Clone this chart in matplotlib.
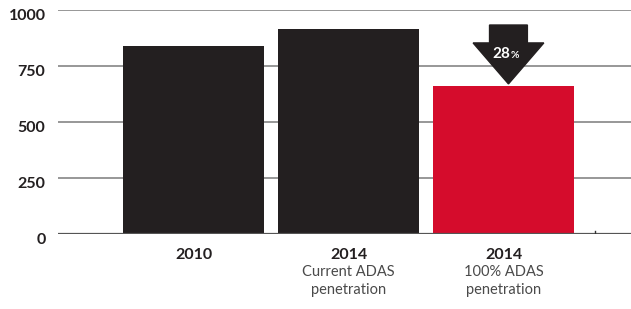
import numpy as np
import matplotlib.pyplot as plt
import matplotlib.transforms as mtransforms
from matplotlib.patches import Polygon

# --- Données ---
annees = ["2010", "2014", "2014"]
sous_titres = ["", "Current ADAS\npenetration", "100% ADAS\npenetration"]
valeurs = [840, 915, 660]
couleurs = ["#231f20", "#231f20", "#d50c2c"]
reduction = "28"
graduations_y = [0, 250, 500, 750, 1000]

plt.rcParams['font.family'] = ['Lato', 'DejaVu Sans']

fig = plt.figure(figsize=(6.31, 3.09), dpi=100)
ax = fig.add_axes([58 / 631, 1 - 234 / 309, 573 / 631, 224 / 309])

x = np.arange(len(valeurs))
for y in graduations_y[1:]:
    ax.axhline(y, color="#7a7a7a", lw=1.1, zorder=1)
ax.axhline(0, color="#555555", lw=1.6, zorder=3)
ax.bar(x, valeurs, width=0.91, color=couleurs, zorder=2)

# petite graduation sur l'axe des x
ax.plot([2.59, 2.59], [0, 12], color="#333333", lw=1, zorder=3)

ax.set_xlim(-0.874, 2.82)
ax.set_ylim(0, 1000)
ax.set_yticks(graduations_y)
ax.set_yticklabels([str(v) for v in graduations_y], fontsize=11.5, fontweight="bold", color="#231f20")
ax.tick_params(axis="y", length=0, pad=9)
decalage = mtransforms.ScaledTranslation(0, -4.5 / 100, fig.dpi_scale_trans)
for lab in ax.get_yticklabels():
    lab.set_transform(lab.get_transform() + decalage)
ax.set_xticks([])
for s in ax.spines.values():
    s.set_visible(False)

# étiquettes sous les barres
for i in range(len(valeurs)):
    ax.annotate(annees[i], (x[i], 0), xytext=(0, -10), textcoords="offset points",
                ha="center", va="top", fontsize=11.5, fontweight="bold", color="#231f20")
    if sous_titres[i]:
        ax.annotate(sous_titres[i], (x[i], 0), xytext=(0, -22.5), textcoords="offset points",
                    ha="center", va="top", fontsize=10.5, color="#4a4a4a", linespacing=1.35)

# flèche de réduction
cx = 2.03
pointe = valeurs[2] + 10
haut = 933
debut_tete = 853
arrow = Polygon([[cx - 0.122, haut], [cx + 0.122, haut], [cx + 0.122, debut_tete],
                 [cx + 0.228, debut_tete], [cx, pointe], [cx - 0.228, debut_tete],
                 [cx - 0.122, debut_tete]], closed=True, color="#231f20", zorder=4, clip_on=False)
ax.add_patch(arrow)
ax.text(cx + 0.01, 805, reduction, ha="right", va="center", color="white",
        fontsize=11, fontweight="bold", zorder=5)
ax.text(cx + 0.015, 797, "%", ha="left", va="center", color="white",
        fontsize=7.5, fontweight="bold", zorder=5)

fig.savefig("out.png", dpi=100)
